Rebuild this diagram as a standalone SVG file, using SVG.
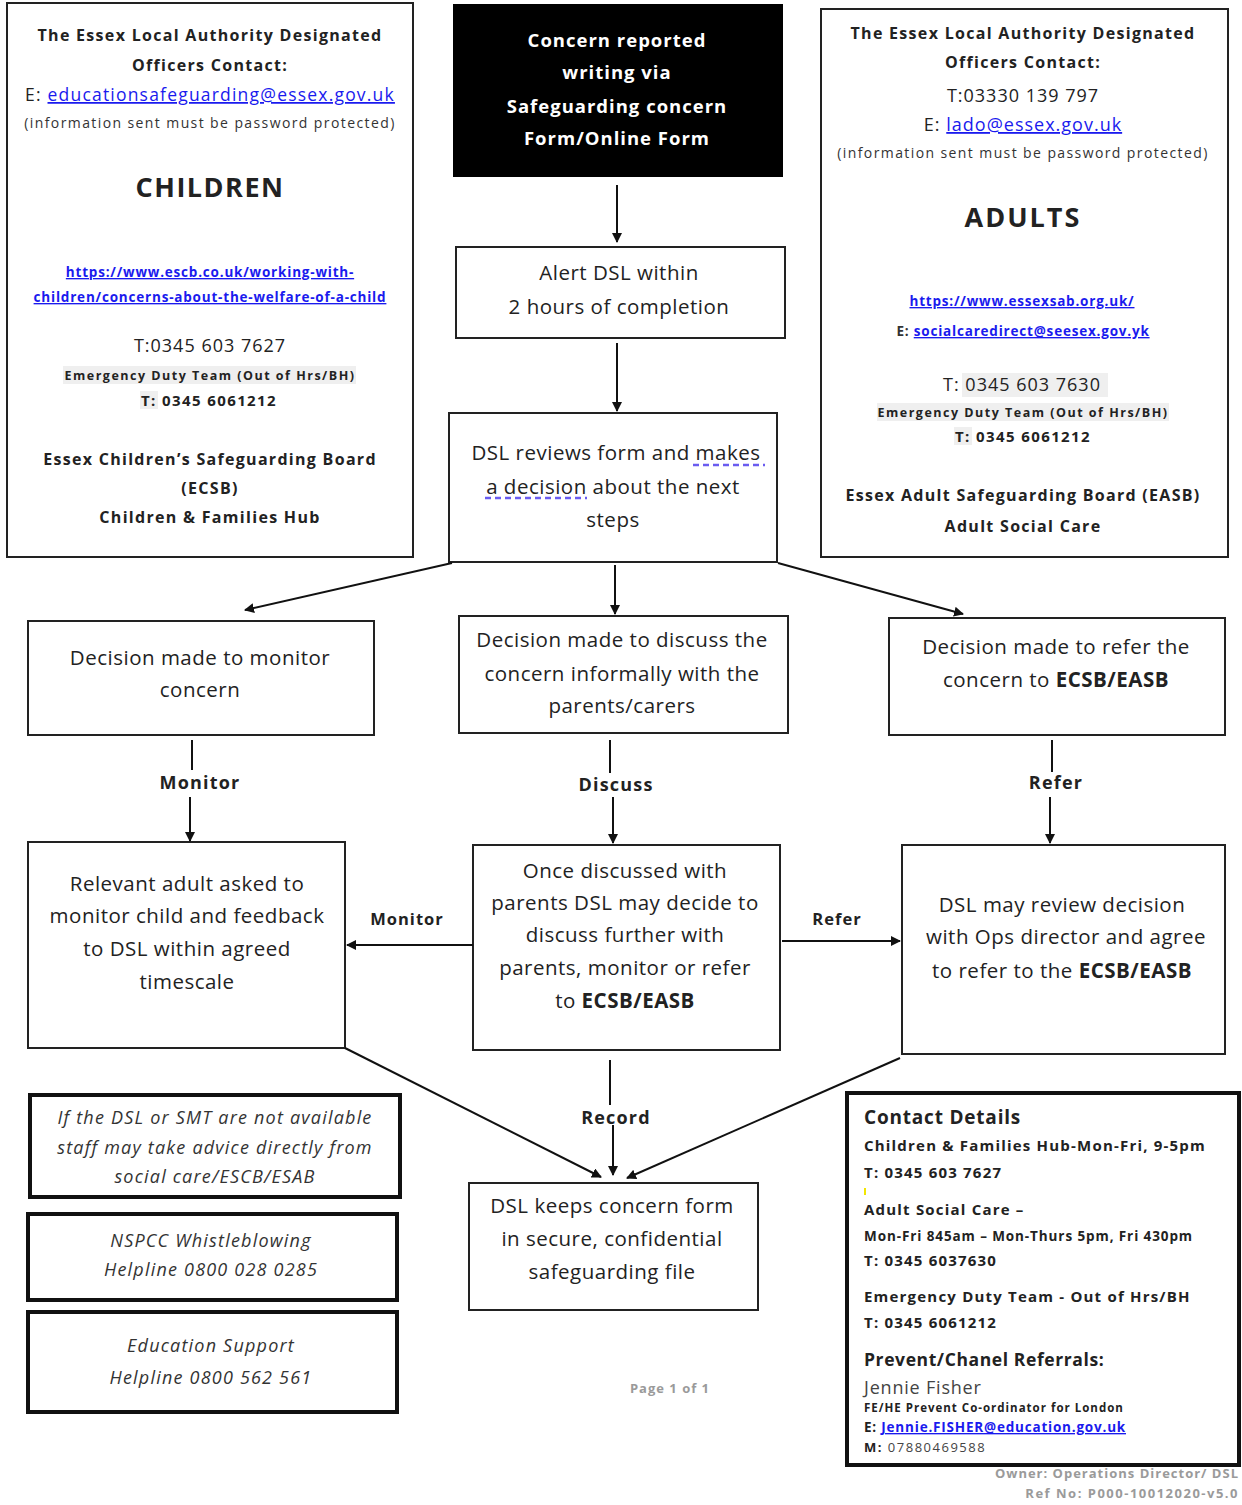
<svg xmlns="http://www.w3.org/2000/svg" width="1242" height="1505" viewBox="0 0 1242 1505">
<defs>
<marker id="ah" viewBox="0 0 10 10" refX="9" refY="5" markerWidth="10" markerHeight="10" markerUnits="userSpaceOnUse" orient="auto">
<path d="M0,0 L10,5 L0,10 z" fill="#111"/>
</marker>
<style>
text{font-family:"Open Sans","Noto Sans","DejaVu Sans",sans-serif;fill:#222}
.c{text-anchor:middle}
.m{font-size:20.5px;letter-spacing:0.5px}
.b{font-weight:bold}
.hd{font-size:16px;font-weight:bold;letter-spacing:1.3px}
.sm{font-size:14px;fill:#333;letter-spacing:1.4px}
.lk{fill:#1a1aee;text-decoration:underline}
.it{font-style:italic;font-size:18px;fill:#333;letter-spacing:1.2px}
.box{fill:#fff;stroke:#222;stroke-width:2}
.thk{fill:#fff;stroke:#111;stroke-width:4}
.ln{stroke:#111;stroke-width:2;fill:none}
.ar{stroke:#111;stroke-width:2;fill:none;marker-end:url(#ah)}
.ct{font-size:15px;font-weight:bold;fill:#222;letter-spacing:1.2px}
.gr{fill:#9a9a9a;font-weight:bold;letter-spacing:1px}
.lb{font-weight:bold;font-size:18px;letter-spacing:1.2px}
.wt{fill:#fff;font-weight:bold;font-size:18.5px;letter-spacing:1px}
</style>
</defs>

<g id="children-panel">
<rect class="box" x="7" y="3" width="406" height="554"/>
<text class="c hd" x="210" y="41">The Essex Local Authority Designated</text>
<text class="c hd" x="210" y="71">Officers Contact:</text>
<text class="c" x="210" y="101" font-size="17.5" letter-spacing="1.2"><tspan>E: </tspan><tspan class="lk">educationsafeguarding@essex.gov.uk</tspan></text>
<text class="c sm" x="210" y="128">(information sent must be password protected)</text>
<text class="c b" x="210" y="197" font-size="27" letter-spacing="1.5">CHILDREN</text>
<text class="c lk b" x="210" y="277" font-size="13.5" letter-spacing="0.8">https://www.escb.co.uk/working-with-</text>
<text class="c lk b" x="210" y="302" font-size="13.5" letter-spacing="0.8">children/concerns-about-the-welfare-of-a-child</text>
<text class="c" x="210" y="352" font-size="18" letter-spacing="1" fill="#333">T:0345 603 7627</text>
<rect x="63" y="366" width="293" height="18" fill="#efefef"/>
<text class="c b" x="210" y="380" font-size="12.5" letter-spacing="1.5" fill="#444">Emergency Duty Team (Out of Hrs/BH)</text>
<rect x="140" y="391" width="18" height="18" fill="#efefef"/>
<text class="c b" x="209" y="406" font-size="15" letter-spacing="1.4">T: 0345 6061212</text>
<text class="c hd" x="210" y="465">Essex Children’s Safeguarding Board</text>
<text class="c hd" x="210" y="494">(ECSB)</text>
<text class="c hd" x="210" y="523">Children &amp; Families Hub</text>
</g>

<g id="adults-panel">
<rect class="box" x="821" y="9" width="407" height="548"/>
<text class="c hd" x="1023" y="39">The Essex Local Authority Designated</text>
<text class="c hd" x="1023" y="68">Officers Contact:</text>
<text class="c" x="1023" y="102" font-size="18" letter-spacing="1" fill="#333">T:03330 139 797</text>
<text class="c" x="1023" y="131" font-size="18" letter-spacing="1"><tspan>E: </tspan><tspan class="lk">lado@essex.gov.uk</tspan></text>
<text class="c sm" x="1023" y="158">(information sent must be password protected)</text>
<text class="c b" x="1023" y="227" font-size="27" letter-spacing="2">ADULTS</text>
<text class="c lk b" x="1022" y="306" font-size="13.5" letter-spacing="0.8">https://www.essexsab.org.uk/</text>
<text class="c b" x="1023" y="336" font-size="13.5" letter-spacing="0.8"><tspan fill="#333">E: </tspan><tspan class="lk">socialcaredirect@seesex.gov.yk</tspan></text>
<rect x="962" y="373" width="146" height="24" fill="#efefef"/>
<text class="c" x="1022" y="391" font-size="18" letter-spacing="1" fill="#333">T:  0345 603 7630</text>
<rect x="877" y="403" width="292" height="18" fill="#efefef"/>
<text class="c b" x="1023" y="417" font-size="12.5" letter-spacing="1.5" fill="#444">Emergency Duty Team (Out of Hrs/BH)</text>
<rect x="954" y="427" width="18" height="18" fill="#efefef"/>
<text class="c b" x="1023" y="442" font-size="15" letter-spacing="1.4">T: 0345 6061212</text>
<text class="c hd" x="1023" y="501">Essex Adult Safeguarding Board (EASB)</text>
<text class="c hd" x="1023" y="532">Adult Social Care</text>
</g>

<g id="concern-reported">
<rect x="453" y="4" width="330" height="173" fill="#000"/>
<text class="c wt" x="617" y="47" style="fill:#fff">Concern reported</text>
<text class="c wt" x="617" y="79" style="fill:#fff">writing via</text>
<text class="c wt" x="617" y="113" style="fill:#fff">Safeguarding concern</text>
<text class="c wt" x="617" y="145" style="fill:#fff">Form/Online Form</text>
</g>

<g id="alert-dsl">
<rect class="box" x="456" y="247" width="329" height="91"/>
<text class="c m" x="619" y="280">Alert DSL within</text>
<text class="c m" x="619" y="314">2 hours of completion</text>
</g>

<g id="dsl-reviews">
<rect class="box" x="449" y="413" width="328" height="149"/>
<text class="c m" x="616" y="460">DSL reviews form and makes</text>
<text class="c m" x="613" y="494">a decision about the next</text>
<text class="c m" x="613" y="527">steps</text>
<line x1="693" y1="465" x2="765" y2="465" stroke="#6a5cf0" stroke-width="2.5" stroke-dasharray="6,4"/>
<line x1="485" y1="498" x2="587" y2="498" stroke="#6a5cf0" stroke-width="2.5" stroke-dasharray="6,4"/>
</g>

<g id="decision-monitor">
<rect class="box" x="28" y="621" width="346" height="114"/>
<text class="c m" x="200" y="665">Decision made to monitor</text>
<text class="c m" x="200" y="697">concern</text>
</g>

<g id="decision-discuss">
<rect class="box" x="459" y="616" width="329" height="117"/>
<text class="c m" x="622" y="647">Decision made to discuss the</text>
<text class="c m" x="622" y="681">concern informally with the</text>
<text class="c m" x="622" y="713">parents/carers</text>
</g>

<g id="decision-refer">
<rect class="box" x="889" y="618" width="336" height="117"/>
<text class="c m" x="1056" y="654">Decision made to refer the</text>
<text class="c m" x="1056" y="687">concern to <tspan class="b">ECSB/EASB</tspan></text>
</g>

<g id="relevant-adult">
<rect class="box" x="28" y="842" width="317" height="206"/>
<text class="c m" x="187" y="891">Relevant adult asked to</text>
<text class="c m" x="187" y="923">monitor child and feedback</text>
<text class="c m" x="187" y="956">to DSL within agreed</text>
<text class="c m" x="187" y="989">timescale</text>
</g>

<g id="once-discussed">
<rect class="box" x="473" y="845" width="307" height="205"/>
<text class="c m" x="625" y="878">Once discussed with</text>
<text class="c m" x="625" y="910">parents DSL may decide to</text>
<text class="c m" x="625" y="942">discuss further with</text>
<text class="c m" x="625" y="975">parents, monitor or refer</text>
<text class="c m" x="625" y="1008">to <tspan class="b">ECSB/EASB</tspan></text>
</g>

<g id="dsl-review-ops">
<rect class="box" x="902" y="845" width="323" height="209"/>
<text class="c m" x="1062" y="912">DSL may review decision</text>
<text class="c m" x="1066" y="944">with Ops director and agree</text>
<text class="c m" x="1062" y="978">to refer to the <tspan class="b">ECSB/EASB</tspan></text>
</g>

<g id="dsl-keeps">
<rect class="box" x="469" y="1183" width="289" height="127"/>
<text class="c m" x="612" y="1213">DSL keeps concern form</text>
<text class="c m" x="612" y="1246">in secure, confidential</text>
<text class="c m" x="612" y="1279">safeguarding file</text>
</g>

<g id="note-dsl-unavailable">
<rect class="thk" x="30" y="1095" width="370" height="102"/>
<text class="c it" x="215" y="1124">If the DSL or SMT are not available</text>
<text class="c it" x="215" y="1154">staff may take advice directly from</text>
<text class="c it" x="215" y="1183">social care/ESCB/ESAB</text>
</g>

<g id="note-nspcc">
<rect class="thk" x="28" y="1214" width="369" height="86"/>
<text class="c it" x="211" y="1247">NSPCC Whistleblowing</text>
<text class="c it" x="211" y="1276">Helpline 0800 028 0285</text>
</g>

<g id="note-education-support">
<rect class="thk" x="28" y="1312" width="369" height="100"/>
<text class="c it" x="211" y="1352">Education Support</text>
<text class="c it" x="211" y="1384">Helpline 0800 562 561</text>
</g>

<g id="contact-details">
<rect class="thk" x="847" y="1093" width="392" height="372"/>
<text x="864" y="1124" font-size="19" font-weight="bold" letter-spacing="0.8">Contact Details</text>
<text class="ct" x="864" y="1151">Children &amp; Families Hub-Mon-Fri, 9-5pm</text>
<text class="ct" x="864" y="1178">T: 0345 603 7627</text>
<rect x="864" y="1188" width="2" height="7" fill="#f2e600"/>
<text class="ct" x="864" y="1215">Adult Social Care –</text>
<text class="ct" x="864" y="1241" style="font-size:13.5px;letter-spacing:0.9px">Mon-Fri 845am – Mon-Thurs 5pm, Fri 430pm</text>
<text class="ct" x="864" y="1266">T: 0345 6037630</text>
<text class="ct" x="864" y="1302">Emergency Duty Team - Out of Hrs/BH</text>
<text class="ct" x="864" y="1328">T: 0345 6061212</text>
<text x="864" y="1366" font-size="17.5" font-weight="bold" letter-spacing="0.6">Prevent/Chanel Referrals:</text>
<text x="864" y="1394" font-size="18" letter-spacing="0.8" style="fill:#444">Jennie Fisher</text>
<text x="864" y="1412" font-size="11.5" font-weight="bold" letter-spacing="1">FE/HE Prevent Co-ordinator for London</text>
<text x="864" y="1432" font-size="13.5" font-weight="bold" letter-spacing="0.8"><tspan>E: </tspan><tspan class="lk">Jennie.FISHER@education.gov.uk</tspan></text>
<text x="864" y="1452" font-size="13" letter-spacing="1.5" style="fill:#444"><tspan font-weight="bold" style="fill:#222">M: </tspan>07880469588</text>
</g>

<g id="footer">
<text class="c gr" x="670" y="1393" font-size="13">Page 1 of 1</text>
<text class="gr" x="1239" y="1478" font-size="13" text-anchor="end">Owner: Operations Director/ DSL</text>
<text class="gr" x="1239" y="1498" font-size="13" text-anchor="end" style="letter-spacing:1.5px">Ref No: P000-10012020-v5.0</text>
</g>

<g id="connectors">
<line class="ar" x1="617" y1="185" x2="617" y2="242"/>
<line class="ar" x1="617" y1="343" x2="617" y2="411"/>
<line class="ar" x1="452" y1="563" x2="245" y2="610"/>
<line class="ar" x1="615" y1="565" x2="615" y2="614"/>
<line class="ar" x1="778" y1="563" x2="963" y2="614"/>
<line class="ln" x1="192" y1="740" x2="192" y2="770"/>
<text class="c lb" x="200" y="789">Monitor</text>
<line class="ar" x1="190" y1="797" x2="190" y2="841"/>
<line class="ln" x1="610" y1="740" x2="610" y2="773"/>
<text class="c lb" x="616" y="791">Discuss</text>
<line class="ar" x1="613" y1="797" x2="613" y2="843"/>
<line class="ln" x1="1052" y1="740" x2="1052" y2="772"/>
<text class="c lb" x="1056" y="789">Refer</text>
<line class="ar" x1="1050" y1="797" x2="1050" y2="843"/>
<line class="ar" x1="473" y1="945" x2="347" y2="945"/>
<text class="c lb" x="407" y="925" style="font-size:16.5px;letter-spacing:1px">Monitor</text>
<line class="ar" x1="782" y1="941" x2="900" y2="941"/>
<text class="c lb" x="837" y="925" style="font-size:16.5px;letter-spacing:1px">Refer</text>
<line class="ar" x1="345" y1="1048" x2="601" y2="1177"/>
<line class="ln" x1="610" y1="1060" x2="610" y2="1105"/>
<text class="c lb" x="616" y="1124">Record</text>
<line class="ar" x1="613" y1="1125" x2="613" y2="1175"/>
<line class="ar" x1="900" y1="1058" x2="627" y2="1178"/>
</g>
</svg>
